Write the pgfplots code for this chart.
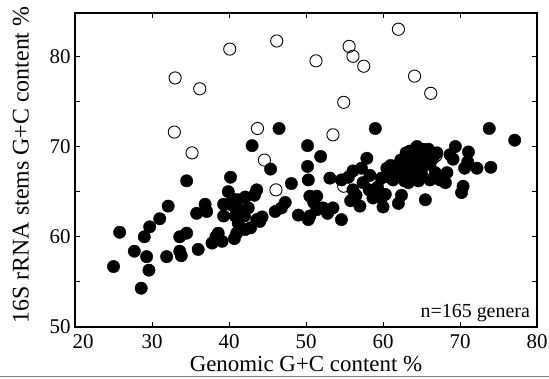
\documentclass[border=0pt]{standalone}
\usepackage{fontspec}
\setmainfont{Liberation Serif}
\usepackage{pgfplots}
\pgfplotsset{compat=1.18}
\begin{document}
\begin{tikzpicture}
\begin{axis}[name=ax, scale only axis, width=462bp, height=314bp,
  xmin=20, xmax=80, ymin=50, ymax=84.8,
  xtick={20,30,...,80}, ytick={50,60,70,80}, minor ytick={55,65,75},
  xticklabels={\hspace*{16bp}20,30,40,50,60,70,80},
  tick align=inside, major tick length=5bp, minor tick length=5bp,
  tick style={black, line width=0.8bp},
  axis line style={line width=1.1bp},
  /pgf/number format/assume math mode=true,
  ticklabel style={font=\fontsize{21}{23}\selectfont},
  xticklabel style={yshift=-4bp},
  yticklabel style={xshift=-1bp},
  every axis x label/.style={at={(axis description cs:0.5,-0.117)}, anchor=center, font=\fontsize{23}{25}\selectfont},
  every axis y label/.style={at={(axis description cs:-0.117,0.516)}, rotate=90, anchor=center, font=\fontsize{24}{26}\selectfont},
  xlabel={Genomic G+C content \%},
  ylabel={16S rRNA stems G+C content \%},
  clip=false,
]
% open circles
\addplot[only marks, mark=o, mark size=6.1bp, mark options={draw=black, fill=white, line width=0.9bp}] coordinates {
(33.0,77.6) (36.2,76.4) (40.1,80.8) (46.2,81.7) (51.3,79.5) (55.6,81.1) (56.1,80.0) (57.5,78.9)
(62.0,83.0) (64.1,77.8) (66.2,75.9) (54.9,74.9) (32.9,71.6) (35.2,69.3) (43.7,72.0) (44.6,68.5)
(53.5,71.3) (46.1,65.2) (58.7,66.1) (66.9,69.0) (54.9,65.6)
};
% filled circles
\addplot[only marks, mark=*, mark size=6.2bp, mark options={draw=black, fill=black}] coordinates {
(25.0,56.7) (25.8,60.5) (27.7,58.4) (28.6,54.3) (29.0,60.0) (29.3,57.8) (29.6,56.3) (29.7,61.1)
(31.0,62.0) (31.9,57.8) (32.1,63.4) (33.6,58.4) (33.8,57.9) (33.6,60.0) (34.5,60.4) (34.5,66.2)
(35.8,62.6) (36.0,58.6) (36.9,63.6) (37.1,62.8) (37.8,59.3) (38.6,60.4) (39.1,59.5) (39.3,63.6)
(39.3,62.3) (38.3,60.0)
(40.2,66.6) (39.9,65.0) (40.5,64.2) (41.2,64.1) (42.1,64.4) (40.8,62.3) (41.2,61.5) (41.0,60.4)
(42.1,60.8) (42.5,63.2) (43.6,61.9) (43.6,65.2) (43.3,64.6) (42.0,62.3) (41.6,62.8) (40.7,59.8)
(43.0,70.1) (45.4,67.5) (46.5,72.0) (46.0,62.8) (47.3,63.8) (46.8,63.2) (48.1,65.9) (49.0,62.4)
(44.0,61.7) (42.8,61.0) (40.4,63.5) (44.3,62.2)
(50.2,70.1) (50.2,67.8) (50.3,66.3) (50.3,61.9) (50.5,64.5) (50.5,62.3) (51.4,64.5) (51.4,63.0)
(51.9,68.9) (52.2,63.2) (53.1,66.5) (53.5,63.2) (54.6,66.3) (54.6,61.9) (55.5,66.6) (56.1,67.3)
(56.1,65.2) (57.2,67.6) (57.9,68.7) (57.4,66.0) (57.0,63.4) (58.7,64.3) (59.8,64.3) (59.0,72.0)
(59.8,66.5) (60.0,63.3) (56.5,64.6) (58.2,65.2) (59.3,65.5) (51.0,63.8) (52.8,62.6) (55.8,64.0)
(58.3,66.8)
(60.5,67.6) (60.8,66.6) (61.3,66.3) (61.0,67.9) (62.6,67.4) (62.0,63.7) (62.4,64.6) (63.5,69.5)
(64.4,70.0) (65.2,69.7) (63.1,68.2) (64.8,67.8) (63.9,66.7) (63.0,69.3) (62.3,68.5) (64.0,68.8)
(65.5,68.5) (65.5,64.1) (65.9,69.7) (66.1,68.0) (66.8,67.1) (66.1,66.3) (67.4,66.3) (68.3,67.1)
(68.1,66.0) (68.7,69.1) (69.4,70.0) (69.1,68.6) (70.4,65.6) (70.2,64.9) (70.6,67.6) (71.1,69.4)
(71.0,68.3) (72.2,67.6) (73.8,72.0) (74.0,67.7) (77.1,70.7) (64.6,66.2) (63.6,67.8) (65.0,67.0)
(67.0,69.3) (61.6,66.8) (62.8,66.2) (63.3,66.0) (64.2,69.3) (66.5,68.7) (60.3,64.7) (61.7,67.6)
};
\node[anchor=base east, inner sep=0pt, font=\fontsize{20}{22}\selectfont] at (rel axis cs:0.985,0.030) {n=165 genera};
\end{axis}
\path (ax.south west) ++(-75bp,-51bp) coordinate (bl);
\path (ax.north east) ++(12bp,13bp) coordinate (tr);
\pgfresetboundingbox
\useasboundingbox (bl) rectangle (tr);
\draw[gray, line width=1bp] (bl) ++(0,1.2bp) -- ++(549bp,0);
\end{tikzpicture}
\end{document}
